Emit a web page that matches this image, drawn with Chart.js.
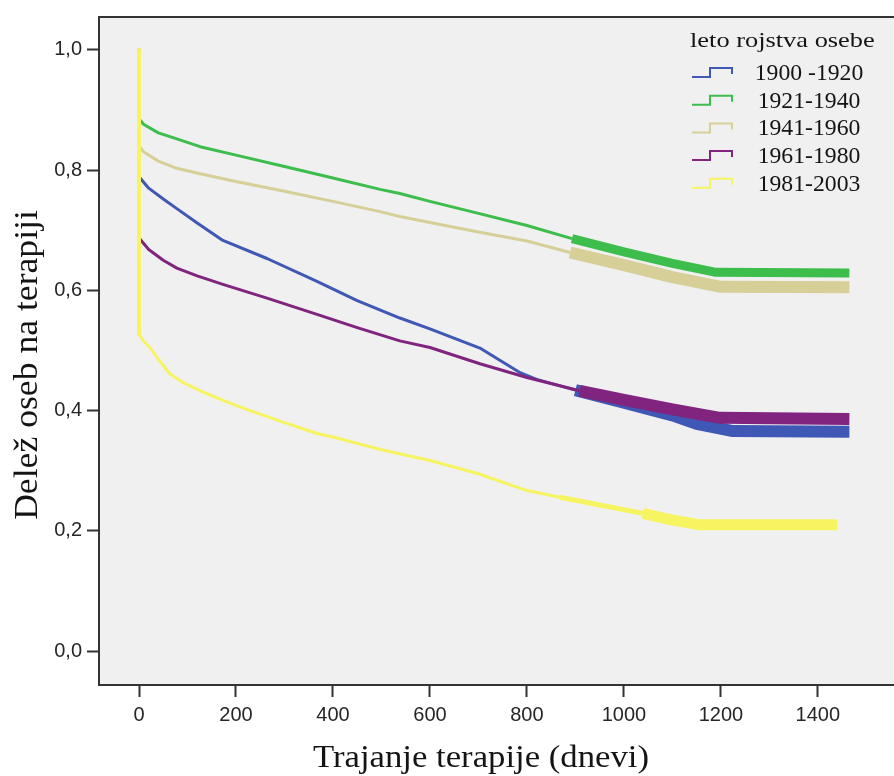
<!DOCTYPE html>
<html lang="sl">
<head>
<meta charset="utf-8">
<script src="https://cdn.jsdelivr.net/npm/chart.js@4.4.1/dist/chart.umd.min.js"></script>
<style>
    html, body { margin: 0; padding: 0; background: #fff; }
    #okvir { position: relative; width: 894px; height: 776px; }
</style>
</head>
<body>
<div id="okvir"><canvas id="terapijaChart"></canvas></div>
<script>
// Skupine po letu rojstva
const skupine = ['1900 -1920', '1921-1940', '1941-1960', '1961-1980', '1981-2003'];
const barve = ['#3f58b5', '#3dbd4b', '#d6cf98', '#80247f', '#f7f462'];

// Trajanje terapije (dnevi) in delež oseb na terapiji za vsako skupino
const dni1900 = [0, 0, 20, 50, 78, 120, 173, 264, 367, 450, 538, 600, 703, 786, 820, 900, 1000, 1100, 1150, 1225, 1465];
const delez1900 = [1.0, 0.789, 0.770, 0.752, 0.736, 0.712, 0.683, 0.653, 0.615, 0.583, 0.554, 0.536, 0.504, 0.463, 0.452, 0.434, 0.413, 0.392, 0.378, 0.366, 0.365];

const dni1921 = [0, 0, 10, 40, 78, 126, 200, 300, 400, 497, 538, 600, 700, 800, 893, 1000, 1100, 1190, 1465];
const delez1921 = [1.0, 0.885, 0.876, 0.862, 0.852, 0.839, 0.825, 0.806, 0.787, 0.768, 0.761, 0.748, 0.728, 0.708, 0.686, 0.664, 0.645, 0.630, 0.629];

const dni1941 = [0, 0, 10, 40, 78, 126, 200, 300, 400, 497, 538, 600, 700, 800, 889, 1000, 1100, 1200, 1465];
const delez1941 = [1.0, 0.840, 0.830, 0.815, 0.803, 0.794, 0.781, 0.765, 0.748, 0.731, 0.723, 0.713, 0.697, 0.682, 0.663, 0.642, 0.622, 0.606, 0.605];

const dni1961 = [0, 0, 20, 50, 78, 120, 173, 264, 367, 450, 538, 600, 703, 800, 909, 1000, 1100, 1198, 1465];
const delez1961 = [1.0, 0.687, 0.668, 0.650, 0.637, 0.624, 0.610, 0.587, 0.560, 0.538, 0.516, 0.505, 0.478, 0.455, 0.433, 0.418, 0.402, 0.388, 0.386];

const dni1981 = [0, 0, 10, 23, 40, 64, 90, 126, 180, 229, 300, 367, 400, 500, 600, 700, 800, 868, 950, 1039, 1100, 1157, 1440];
const delez1981 = [1.0, 0.527, 0.515, 0.505, 0.485, 0.461, 0.447, 0.433, 0.415, 0.400, 0.380, 0.362, 0.356, 0.335, 0.317, 0.295, 0.267, 0.256, 0.243, 0.229, 0.218, 0.210, 0.210];

// od tega dne naprej so krivulje zgoščene s cenzuriranimi primeri
const cenzuraOd = [889, 893, 889, 895, 1039];

const xOznake = [0, 200, 400, 600, 800, 1000, 1200, 1400];
const yOznake = [0.0, 0.2, 0.4, 0.6, 0.8, 1.0];

const dniVse = [dni1900, dni1921, dni1941, dni1961, dni1981];
const delezVse = [delez1900, delez1921, delez1941, delez1961, delez1981];

const debelinaPasu = [12, 9, 12, 12, 11];
const vrstniRed = [3, 2, 4, 1, 0];

function tocke(dni, delez) {
    return dni.map((d, i) => ({ x: d, y: delez[i] }));
}

const podatki = skupine.map((ime, i) => ({
    label: ime,
    data: tocke(dniVse[i], delezVse[i]),
    borderColor: barve[i],
    backgroundColor: barve[i],
    borderWidth: 3,
    borderJoinStyle: 'round',
    pointRadius: 0,
    tension: 0,
    fill: false,
    order: vrstniRed[i],
    segment: {
        borderWidth: ctx => {
            const x = ctx.p0.parsed.x;
            // navpični padec na dan 0 pri najmlajši skupini prekrije ostale
            if (i === 4 && x === 0 && ctx.p1.parsed.x === 0) return 4;
            if (x >= cenzuraOd[i]) return debelinaPasu[i];
            if (i === 4 && x >= 868) return 5;
            return 3;
        }
    }
}));

const okvirBarva = '#333';

// sivo ozadje, zgornji rob, naslova osi in legenda
const risanje = {
    id: 'risanje',
    beforeDraw(chart) {
        const { ctx, chartArea: a } = chart;
        ctx.save();
        ctx.fillStyle = '#f0f0f0';
        ctx.fillRect(a.left, a.top, a.right - a.left, a.bottom - a.top);
        ctx.restore();
    },
    afterDraw(chart) {
        const { ctx, chartArea: a } = chart;
        ctx.save();
        ctx.strokeStyle = okvirBarva;
        ctx.lineWidth = 2;
        ctx.beginPath();
        ctx.moveTo(a.left - 1, a.top);
        ctx.lineTo(a.right, a.top);
        ctx.stroke();

        ctx.fillStyle = '#141414';
        ctx.font = '31px "Liberation Serif"';
        ctx.textAlign = 'center';
        ctx.textBaseline = 'alphabetic';
        ctx.save();
        ctx.translate(481, 767);
        ctx.scale(1.12, 1);
        ctx.fillText('Trajanje terapije (dnevi)', 0, 0);
        ctx.restore();

        ctx.save();
        ctx.translate(37, 365);
        ctx.rotate(-Math.PI / 2);
        ctx.scale(1.08, 1);
        ctx.font = '33px "Liberation Serif"';
        ctx.fillText('Delež oseb na terapiji', 0, 0);
        ctx.restore();

        // legenda
        ctx.save();
        ctx.translate(690, 47);
        ctx.scale(1.2, 1);
        ctx.textAlign = 'left';
        ctx.font = '22px "Liberation Serif"';
        ctx.fillText('leto rojstva osebe', 0, 0);
        ctx.restore();

        ctx.font = '23px "Liberation Serif"';
        ctx.textAlign = 'center';
        chart.data.datasets.forEach((ds, i) => {
            const y = 80 + i * 27.7;
            ctx.strokeStyle = ds.borderColor;
            ctx.lineWidth = 2;
            ctx.beginPath();
            ctx.moveTo(692, y - 3);
            ctx.lineTo(710, y - 3);
            ctx.lineTo(710, y - 12);
            ctx.lineTo(732, y - 12);
            ctx.lineTo(732, y - 6);
            ctx.stroke();
            ctx.fillStyle = '#141414';
            ctx.save();
            ctx.translate(809, y);
            ctx.scale(1.03, 1);
            ctx.fillText(ds.label, 0, 0);
            ctx.restore();
        });
        ctx.restore();
    }
};

const pisavaOznak = { family: '"Liberation Sans", Arial, sans-serif', size: 20 };

new Chart(document.getElementById('terapijaChart').getContext('2d'), {
    type: 'line',
    data: { datasets: podatki },
    options: {
        responsive: true,
        maintainAspectRatio: false,
        animation: false,
        layout: { padding: { top: 15, right: 0, left: 0, bottom: 0 } },
        plugins: {
            legend: { display: false },
            tooltip: { enabled: false }
        },
        scales: {
            x: {
                type: 'linear',
                min: -82.5,
                max: 1557,
                afterBuildTicks: scale => { scale.ticks = xOznake.map(v => ({ value: v })); },
                afterFit: scale => { scale.height = 91; },
                grid: { drawOnChartArea: false, drawTicks: true, tickLength: 12, tickWidth: 2, tickColor: okvirBarva },
                border: { display: true, color: okvirBarva, width: 2 },
                ticks: {
                    font: pisavaOznak,
                    color: '#262626',
                    padding: 6,
                    maxRotation: 0,
                    callback: v => String(v)
                }
            },
            y: {
                type: 'linear',
                min: -0.0564,
                max: 1.0547,
                afterBuildTicks: scale => { scale.ticks = yOznake.map(v => ({ value: v })); },
                afterFit: scale => { scale.width = 99; },
                grid: { drawOnChartArea: false, drawTicks: true, tickLength: 12, tickWidth: 2, tickColor: okvirBarva },
                border: { display: true, color: okvirBarva, width: 2 },
                ticks: {
                    font: pisavaOznak,
                    color: '#262626',
                    padding: 5,
                    callback: v => v.toFixed(1).replace('.', ',')
                }
            }
        }
    },
    plugins: [risanje]
});
</script>
</body>
</html>
